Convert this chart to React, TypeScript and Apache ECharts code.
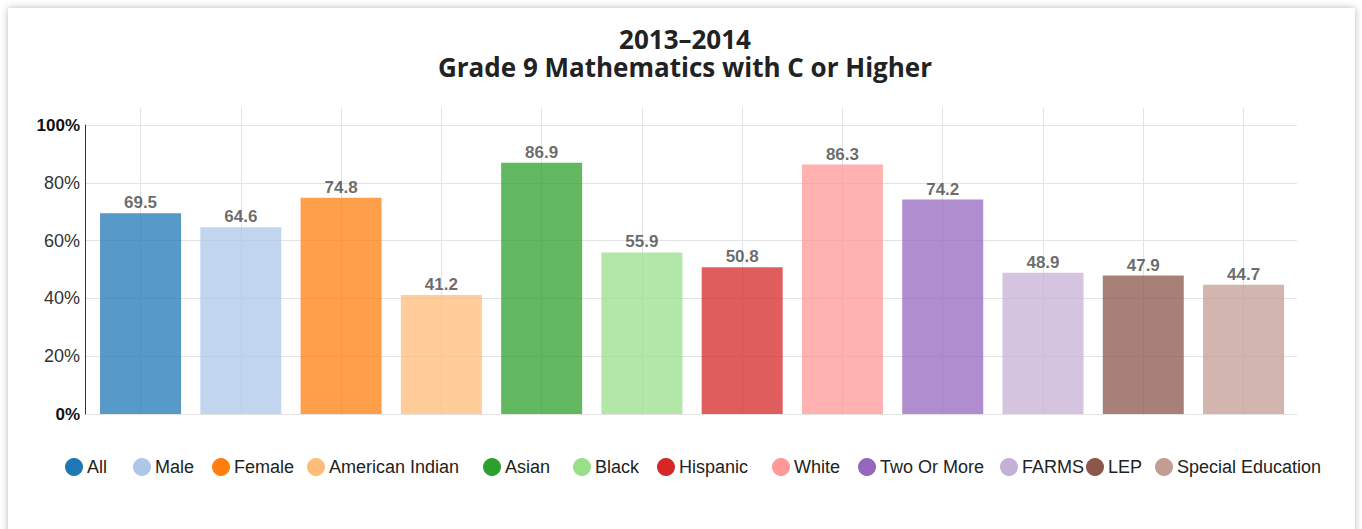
import React, { useEffect, useRef } from "react";
import * as echarts from "echarts";

const categories = [
  "All",
  "Male",
  "Female",
  "American Indian",
  "Asian",
  "Black",
  "Hispanic",
  "White",
  "Two Or More",
  "FARMS",
  "LEP",
  "Special Education",
];
const values = [69.5, 64.6, 74.8, 41.2, 86.9, 55.9, 50.8, 86.3, 74.2, 48.9, 47.9, 44.7];
const colors = [
  "#1f77b4",
  "#aec7e8",
  "#ff7f0e",
  "#ffbb78",
  "#2ca02c",
  "#98df8a",
  "#d62728",
  "#ff9896",
  "#9467bd",
  "#c5b0d5",
  "#8c564b",
  "#c49c94",
];
const titleLine1 = "2013–2014";
const titleLine2 = "Grade 9 Mathematics with C or Higher";
const yMin = 0;
const yMax = 100;
const yStep = 20;

// layout only: left edge of each legend entry's marker (pixels)
const legendLeft = [65, 133, 212, 307, 483, 573, 657, 772, 858, 1000, 1086, 1155];

const W = 1362;
const H = 529;
const SANS = "Arial, 'Liberation Sans', Helvetica, sans-serif";
const TITLE_FONT = "'Open Sans', sans-serif";

export default function App() {
  const ref = useRef<HTMLDivElement>(null);

  useEffect(() => {
    document.body.style.margin = "0";
    document.body.style.background = "#ffffff";
    if (!ref.current) return;
    const chart = echarts.init(ref.current, null, { renderer: "svg" });

    const series: any[] = categories.map((name, i) => ({
      type: "bar",
      name,
      xAxisIndex: 2,
      yAxisIndex: 2,
      stack: "one",
      barWidth: 81,
      data: categories.map((_, j) => (j === i ? values[i] : "-")),
      itemStyle: { color: colors[i], opacity: 0.75 },
      label: {
        show: true,
        position: "top",
        distance: 2,
        fontFamily: SANS,
        fontSize: 17,
        fontWeight: "bold",
        color: "#3c3c3c",
        formatter: (p: any) => Number(p.value).toFixed(1),
      },
      emphasis: { disabled: true },
    }));

    const legends = categories.map((name, i) => ({
      data: [name],
      left: legendLeft[i],
      top: 458,
      padding: 0,
      icon: "circle",
      itemWidth: 18,
      itemHeight: 18,
      itemGap: 0,
      selectedMode: false,
      itemStyle: { opacity: 1 },
      textStyle: { fontFamily: SANS, fontSize: 18, color: "#222", padding: [0, 0, 0, -1] },
    }));

    const titleStyle = {
      fontFamily: TITLE_FONT,
      fontSize: 26,
      fontWeight: "bold",
      color: "#222222",
      lineHeight: 27,
    };

    chart.setOption({
      animation: false,
      backgroundColor: "transparent",
      title: {
        text: titleLine1,
        subtext: titleLine2,
        left: 685,
        textAlign: "center",
        top: 25.5,
        padding: 0,
        itemGap: 1,
        textStyle: titleStyle,
        subtextStyle: titleStyle,
      },
      legend: legends,
      grid: [
        { left: 85, right: W - 1297, top: 125, bottom: H - 414 },
        { left: 140.5, right: W - 1243.5, top: 108, bottom: H - 414 },
        { left: 90.4, right: W - 1293.7, top: 125, bottom: H - 414 },
      ],
      xAxis: [
        { gridIndex: 0, type: "value", show: false, min: 0, max: 1 },
        {
          gridIndex: 1,
          type: "category",
          data: categories,
          boundaryGap: false,
          axisLine: { show: false },
          axisTick: { show: false },
          axisLabel: { show: false },
          splitLine: { show: true, interval: 0, lineStyle: { color: "#e3e3e3", width: 1 } },
        },
        {
          gridIndex: 2,
          type: "category",
          data: categories,
          show: false,
        },
      ],
      yAxis: [
        {
          gridIndex: 0,
          type: "value",
          min: yMin,
          max: yMax,
          interval: yStep,
          axisLine: { show: true, lineStyle: { color: "#333", width: 1 } },
          axisTick: { show: false },
          splitLine: { show: true, lineStyle: { color: "#e3e3e3", width: 1 } },
          axisLabel: {
            margin: 5,
            fontFamily: SANS,
            fontSize: 18,
            color: "#333",
            formatter: (v: number) => (v === yMin || v === yMax ? `{b|${v}%}` : `${v}%`),
            rich: {
              b: { fontFamily: SANS, fontSize: 17, fontWeight: "bold", color: "#111" },
            },
          },
        },
        { gridIndex: 1, type: "value", show: false, min: 0, max: 1, splitLine: { show: false } },
        { gridIndex: 2, type: "value", show: false, min: yMin, max: yMax, splitLine: { show: false } },
      ],
      series,
    });

    return () => chart.dispose();
  }, []);

  return (
    <div style={{ position: "relative", width: W, height: H, overflow: "hidden", background: "#fff" }}>
      <div
        style={{
          position: "absolute",
          left: 8,
          top: 8,
          width: 1347,
          height: 600,
          background: "#fff",
          boxShadow: "0 0 7px rgba(0,0,0,0.28)",
        }}
      />
      <div ref={ref} style={{ position: "absolute", left: 0, top: 0, width: W, height: H }} />
    </div>
  );
}
